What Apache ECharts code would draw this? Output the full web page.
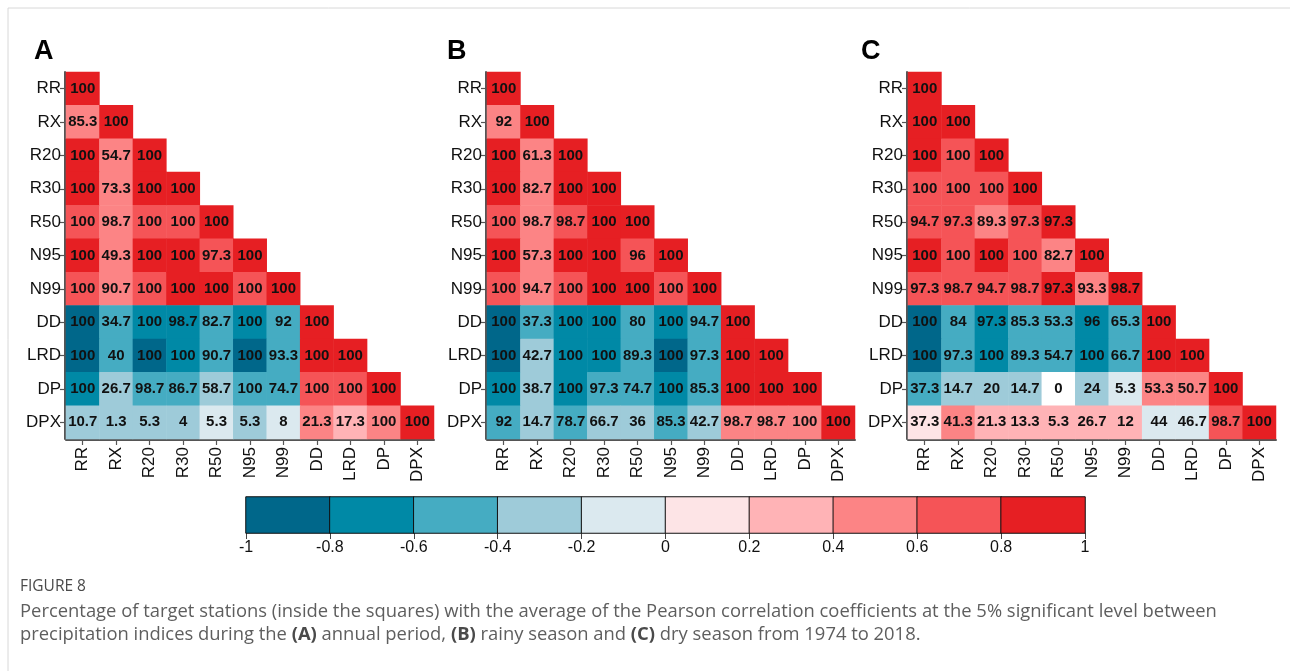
<!DOCTYPE html>
<html>
<head>
<meta charset="utf-8">
<script src="https://cdn.jsdelivr.net/npm/echarts@6/dist/echarts.min.js"></script>
<style>
  html, body { margin: 0; padding: 0; background: #ffffff; }
  #chart { width: 1290px; height: 671px; }
</style>
</head>
<body>
<div id="chart"></div>
<script>
// ---------- DATA ----------
const indices = ['RR', 'RX', 'R20', 'R30', 'R50', 'N95', 'N99', 'DD', 'LRD', 'DP', 'DPX'];

// Percentage of stations (numbers printed in squares), lower triangle rows
const pctA = [
  [100],
  [85.3, 100],
  [100, 54.7, 100],
  [100, 73.3, 100, 100],
  [100, 98.7, 100, 100, 100],
  [100, 49.3, 100, 100, 97.3, 100],
  [100, 90.7, 100, 100, 100, 100, 100],
  [100, 34.7, 100, 98.7, 82.7, 100, 92, 100],
  [100, 40, 100, 100, 90.7, 100, 93.3, 100, 100],
  [100, 26.7, 98.7, 86.7, 58.7, 100, 74.7, 100, 100, 100],
  [10.7, 1.3, 5.3, 4, 5.3, 5.3, 8, 21.3, 17.3, 100, 100]
];
// Average Pearson correlation (estimated from colour class)
const corrA = [
  [0.9],
  [0.5, 0.9],
  [0.9, 0.5, 0.9],
  [0.9, 0.5, 0.9, 0.9],
  [0.7, 0.5, 0.7, 0.7, 0.9],
  [0.9, 0.5, 0.9, 0.9, 0.7, 0.9],
  [0.7, 0.5, 0.7, 0.9, 0.9, 0.7, 0.9],
  [-0.9, -0.5, -0.7, -0.7, -0.5, -0.7, -0.5, 0.9],
  [-0.9, -0.5, -0.9, -0.7, -0.5, -0.9, -0.5, 0.9, 0.9],
  [-0.7, -0.3, -0.5, -0.5, -0.3, -0.5, -0.5, 0.7, 0.7, 0.9],
  [-0.3, -0.3, -0.3, -0.3, -0.1, -0.3, -0.1, 0.5, 0.3, 0.5, 0.9]
];

const pctB = [
  [100],
  [92, 100],
  [100, 61.3, 100],
  [100, 82.7, 100, 100],
  [100, 98.7, 98.7, 100, 100],
  [100, 57.3, 100, 100, 96, 100],
  [100, 94.7, 100, 100, 100, 100, 100],
  [100, 37.3, 100, 100, 80, 100, 94.7, 100],
  [100, 42.7, 100, 100, 89.3, 100, 97.3, 100, 100],
  [100, 38.7, 100, 97.3, 74.7, 100, 85.3, 100, 100, 100],
  [92, 14.7, 78.7, 66.7, 36, 85.3, 42.7, 98.7, 98.7, 100, 100]
];
const corrB = [
  [0.9],
  [0.5, 0.9],
  [0.9, 0.5, 0.9],
  [0.9, 0.5, 0.9, 0.9],
  [0.7, 0.5, 0.7, 0.9, 0.9],
  [0.9, 0.5, 0.9, 0.9, 0.7, 0.9],
  [0.7, 0.5, 0.7, 0.9, 0.9, 0.7, 0.9],
  [-0.9, -0.5, -0.7, -0.7, -0.5, -0.7, -0.5, 0.9],
  [-0.9, -0.3, -0.7, -0.7, -0.5, -0.9, -0.5, 0.9, 0.9],
  [-0.7, -0.3, -0.7, -0.5, -0.5, -0.7, -0.5, 0.9, 0.9, 0.9],
  [-0.5, -0.3, -0.5, -0.3, -0.3, -0.5, -0.3, 0.5, 0.5, 0.5, 0.9]
];

const pctC = [
  [100],
  [100, 100],
  [100, 100, 100],
  [100, 100, 100, 100],
  [94.7, 97.3, 89.3, 97.3, 97.3],
  [100, 100, 100, 100, 82.7, 100],
  [97.3, 98.7, 94.7, 98.7, 97.3, 93.3, 98.7],
  [100, 84, 97.3, 85.3, 53.3, 96, 65.3, 100],
  [100, 97.3, 100, 89.3, 54.7, 100, 66.7, 100, 100],
  [37.3, 14.7, 20, 14.7, 0, 24, 5.3, 53.3, 50.7, 100],
  [37.3, 41.3, 21.3, 13.3, 5.3, 26.7, 12, 44, 46.7, 98.7, 100]
];
const corrC = [
  [0.9],
  [0.9, 0.9],
  [0.9, 0.7, 0.9],
  [0.7, 0.7, 0.7, 0.9],
  [0.7, 0.7, 0.5, 0.7, 0.9],
  [0.9, 0.7, 0.9, 0.7, 0.5, 0.9],
  [0.7, 0.7, 0.7, 0.7, 0.9, 0.5, 0.9],
  [-0.9, -0.5, -0.7, -0.5, -0.5, -0.7, -0.5, 0.9],
  [-0.9, -0.5, -0.7, -0.5, -0.5, -0.7, -0.5, 0.9, 0.9],
  [-0.5, -0.3, -0.3, -0.3, null, -0.3, -0.1, 0.5, 0.5, 0.9],
  [0.1, 0.5, 0.3, 0.3, 0.3, 0.3, 0.3, -0.1, -0.1, 0.7, 0.9]
];

const panelLetters = ['A', 'B', 'C'];
const colorBreaks = [-1, -0.8, -0.6, -0.4, -0.2, 0, 0.2, 0.4, 0.6, 0.8, 1];
const binColors = ['#00678a', '#0089a6', '#45acc2', '#9ecbd9', '#dbe9ef',
                   '#fde4e6', '#ffb3b6', '#fc8485', '#f55457', '#e61f23'];

const captionTitle = 'FIGURE 8';
const captionLine1 = 'Percentage of target stations (inside the squares) with the average of the Pearson correlation coefficients at the 5% significant level between';
const captionLine2Parts = ['precipitation indices during the ', '(A)', ' annual period, ', '(B)', ' rainy season and ', '(C)', ' dry season from 1974 to 2018.'];

// ---------- BUILD ----------
function colorFor(c) {
  if (c === null || c === undefined) return '#ffffff';
  let k = Math.floor((c - colorBreaks[0]) / 0.2 + 1e-9);
  k = Math.max(0, Math.min(binColors.length - 1, k));
  return binColors[k];
}
function buildData(pct, corr) {
  const out = [];
  for (let r = 0; r < pct.length; r++) {
    for (let c = 0; c < pct[r].length; c++) {
      out.push({ value: [c, r, pct[r][c]], itemStyle: { color: colorFor(corr[r][c]) } });
    }
  }
  return out;
}

const panels = [[pctA, corrA], [pctB, corrB], [pctC, corrC]];
const gridLefts = [66, 487, 908];
const FONT = '"Liberation Sans", Arial, sans-serif';

const grids = [], xAxes = [], yAxes = [], series = [];
panels.forEach((p, i) => {
  grids.push({ left: gridLefts[i], top: 72, width: 368, height: 367, containLabel: false });
  xAxes.push({
    type: 'category', gridIndex: i, data: indices, position: 'bottom', offset: 1,
    axisLine: { show: true, lineStyle: { color: '#555', width: 2 } },
    axisTick: { show: true, alignWithLabel: true, length: 5, lineStyle: { color: '#555', width: 1.2 } },
    axisLabel: { rotate: 90, fontSize: 17, color: '#111', fontFamily: FONT, margin: 7 },
    splitLine: { show: false }
  });
  yAxes.push({
    type: 'category', gridIndex: i, data: indices, inverse: true, offset: 1,
    axisLine: { show: true, lineStyle: { color: '#555', width: 2 } },
    axisTick: { show: true, alignWithLabel: true, length: 5, lineStyle: { color: '#555', width: 1.2 } },
    axisLabel: { fontSize: 17, color: '#111', fontFamily: FONT, margin: 4 },
    splitLine: { show: false }
  });
  series.push({
    type: 'heatmap', xAxisIndex: i, yAxisIndex: i,
    data: buildData(p[0], p[1]),
    label: {
      show: true, fontSize: 15, fontWeight: 'bold', color: '#111', fontFamily: FONT,
      formatter: (d) => String(d.value[2])
    },
    itemStyle: { borderWidth: 0 },
    emphasis: { disabled: true }
  });
});

// colour bar
const cbIndex = 3;
grids.push({ left: 246, top: 497, width: 839, height: 36 });
const binNames = binColors.map((_, k) => 'b' + k);
xAxes.push({
  type: 'category', gridIndex: cbIndex, data: binNames, show: false
});
xAxes.push({
  type: 'value', gridIndex: cbIndex, min: -1, max: 1, interval: 0.2, position: 'bottom',
  axisLine: { show: false },
  axisTick: { show: true, length: 6, lineStyle: { color: '#444', width: 1 } },
  axisLabel: { fontSize: 16, color: '#111', fontFamily: FONT, margin: 7 },
  splitLine: { show: false }
});
yAxes.push({ type: 'category', gridIndex: cbIndex, data: ['cb'], show: false });
series.push({
  type: 'heatmap', xAxisIndex: 3, yAxisIndex: 3,
  data: binColors.map((col, k) => ({
    value: [k, 0, (colorBreaks[k] + colorBreaks[k + 1]) / 2],
    itemStyle: { color: col }
  })),
  itemStyle: { borderColor: '#111', borderWidth: 1 },
  label: { show: false },
  emphasis: { disabled: true }
});

// graphics: panel letters, caption, frame lines
const graphics = [];
const letterX = [34, 447, 861];
panelLetters.forEach((L, i) => {
  graphics.push({
    type: 'text', left: letterX[i], top: 38,
    style: { text: L, font: 'bold 27px ' + FONT, fill: '#000' }
  });
});
graphics.push({ type: 'line', shape: { x1: 8, y1: 8, x2: 1290, y2: 8 }, style: { stroke: '#d8d8d8', lineWidth: 1 } });
graphics.push({ type: 'line', shape: { x1: 8, y1: 8, x2: 8, y2: 671 }, style: { stroke: '#d8d8d8', lineWidth: 1 } });
const CAPFONT = '"Open Sans", "Noto Sans", sans-serif';
graphics.push({
  type: 'text', left: 20, top: 579,
  style: { text: captionTitle, font: '15.5px ' + CAPFONT, fill: '#4a4a4a' }
});
graphics.push({
  type: 'text', left: 20, top: 603,
  style: { text: captionLine1, font: '18.4px ' + CAPFONT, fill: '#5e5e5e' }
});
graphics.push({
  type: 'text', left: 20, top: 626,
  style: {
    text: captionLine2Parts.map((t, i) => (i % 2 === 1 ? '{b|' + t + '}' : '{n|' + t + '}')).join(''),
    rich: {
      n: { font: '18.4px ' + CAPFONT, fill: '#5e5e5e' },
      b: { font: 'bold 18.4px ' + CAPFONT, fill: '#4a4a4a' }
    }
  }
});

const chart = echarts.init(document.getElementById('chart'), null, { renderer: 'canvas' });
chart.setOption({
  backgroundColor: '#ffffff',
  animation: false,
  grid: grids,
  xAxis: xAxes,
  yAxis: yAxes,
  series: series,
  graphic: graphics
});
</script>
</body>
</html>
